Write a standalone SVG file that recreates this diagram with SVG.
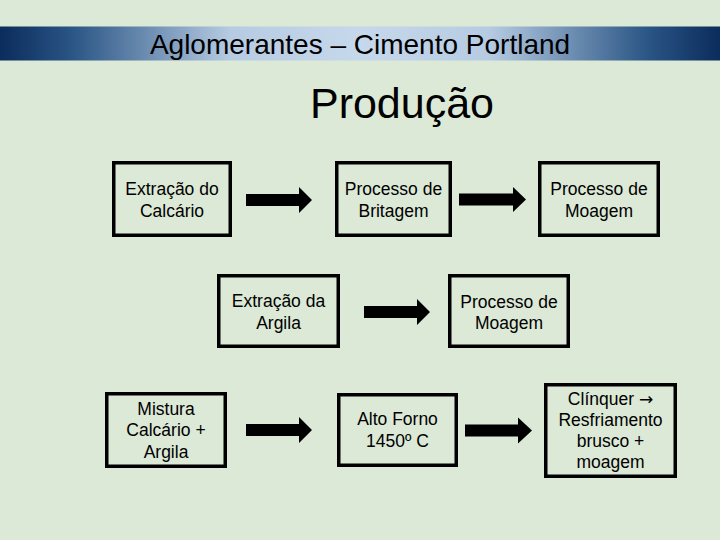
<svg xmlns="http://www.w3.org/2000/svg" width="720" height="540" viewBox="0 0 720 540">
<defs>
<linearGradient id="banner" x1="0" y1="0" x2="1" y2="0">
<stop offset="0" stop-color="#0b2c5c"/>
<stop offset="0.1" stop-color="#2a5585"/>
<stop offset="0.32" stop-color="#b6cbe2"/>
<stop offset="0.5" stop-color="#c6d8eb"/>
<stop offset="0.68" stop-color="#b6cbe2"/>
<stop offset="0.9" stop-color="#2a5585"/>
<stop offset="1" stop-color="#0b2c5c"/>
</linearGradient>
<style>
.box{fill:none;stroke:#000;stroke-width:3.5}
.t{font-family:"Liberation Sans",Arial,sans-serif;font-size:17.5px;fill:#000;text-anchor:middle}
.arrow{fill:#000}
</style>
</defs>
<rect width="720" height="540" fill="#dbe9d6"/>
<rect x="0" y="26.5" width="720" height="34" fill="url(#banner)"/>
<text x="360" y="54" font-family="'Liberation Sans',Arial,sans-serif" font-size="28" text-anchor="middle" fill="#000">Aglomerantes – Cimento Portland</text>
<text x="402" y="118" font-family="'Liberation Sans',Arial,sans-serif" font-size="43" text-anchor="middle" fill="#000">Produção</text>

<g id="connectors">
<polygon class="arrow" points="246,194 299,194 299,187 312,200 299,213 299,206 246,206"/>
<polygon class="arrow" points="459,193.5 513,193.5 513,187 526,199.5 513,212 513,205.5 459,205.5"/>
<polygon class="arrow" points="364,306 417,306 417,299 430,312 417,325 417,318 364,318"/>
<polygon class="arrow" points="246,424 299,424 299,417 312,430 299,443 299,436 246,436"/>
<polygon class="arrow" points="465,424.5 518,424.5 518,417.5 532,430.5 518,443.5 518,436.5 465,436.5"/>
</g>

<g id="n1"><rect class="box" x="113.75" y="162.75" width="116.5" height="72.5"/>
<text class="t" x="172" y="195">Extração do</text><text class="t" x="172" y="216.5">Calcário</text></g>
<g id="n2"><rect class="box" x="336.75" y="162.75" width="113.5" height="72.5"/>
<text class="t" x="393.5" y="195">Processo de</text><text class="t" x="393.5" y="216.5">Britagem</text></g>
<g id="n3"><rect class="box" x="539.75" y="162.75" width="118.5" height="72.5"/>
<text class="t" x="599" y="195">Processo de</text><text class="t" x="599" y="216.5">Moagem</text></g>
<g id="n4"><rect class="box" x="218.75" y="275.75" width="119.5" height="70.5"/>
<text class="t" x="278.5" y="307">Extração da</text><text class="t" x="278.5" y="328.5">Argila</text></g>
<g id="n5"><rect class="box" x="449.75" y="275.75" width="118.5" height="70.5"/>
<text class="t" x="509" y="307.5">Processo de</text><text class="t" x="509" y="329">Moagem</text></g>
<g id="n6"><rect class="box" x="106.75" y="393.75" width="118.5" height="72.5"/>
<text class="t" x="166" y="414.5">Mistura</text><text class="t" x="166" y="436">Calcário +</text><text class="t" x="166" y="457.5">Argila</text></g>
<g id="n7"><rect class="box" x="338.75" y="394.75" width="117.5" height="70.5"/>
<text class="t" x="397.5" y="425">Alto Forno</text><text class="t" x="397.5" y="446.5">1450º C</text></g>
<g id="n8"><rect class="box" x="545.75" y="384.75" width="129.5" height="91.5"/>
<text class="t" x="610.5" y="404.5">Clínquer <tspan font-family="'DejaVu Sans',sans-serif" font-size="17">→</tspan></text><text class="t" x="610.5" y="426">Resfriamento</text><text class="t" x="610.5" y="447">brusco +</text><text class="t" x="610.5" y="468">moagem</text></g>
</svg>
